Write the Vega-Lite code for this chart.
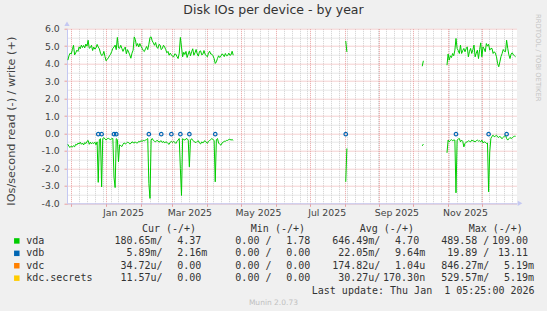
{
  "$schema": "https://vega.github.io/schema/vega-lite/v6.json",
  "width": 450,
  "height": 174.6,
  "autosize": "none",
  "padding": {"left": 67, "top": 28.7, "right": 30, "bottom": 107.7},
  "background": "#f0f0f0",
  "title": {"text": "Disk IOs per device - by year", "font": "DejaVu Sans", "fontSize": 12.5, "fontWeight": "normal", "color": "#333333", "anchor": "middle", "frame": "group", "dx": -18.5, "dy": 3, "offset": 1},
  "config": {
    "view": {"stroke": null, "fill": "#ffffff"},
    "axis": {"labelFont": "DejaVu Sans", "labelFontSize": 9.33, "labelColor": "#444444", "domainColor": "#c4c8f2", "domainWidth": 1}
  },
  "datasets": {
    "vda": [
      {"date":"2024-11-28","seg":1,"write":4.20,"read":-0.62},
      {"date":"2024-11-29","seg":1,"write":4.45,"read":-0.75},
      {"date":"2024-11-30","seg":1,"write":4.60,"read":-0.80},
      {"date":"2024-12-01","seg":1,"write":4.55,"read":-0.72},
      {"date":"2024-12-02","seg":1,"write":4.80,"read":-0.78},
      {"date":"2024-12-03","seg":1,"write":5.05,"read":-0.70},
      {"date":"2024-12-04","seg":1,"write":4.50,"read":-0.76},
      {"date":"2024-12-05","seg":1,"write":4.62,"read":-0.62},
      {"date":"2024-12-06","seg":1,"write":4.77,"read":-0.66},
      {"date":"2024-12-07","seg":1,"write":4.70,"read":-0.55},
      {"date":"2024-12-08","seg":1,"write":4.96,"read":-0.60},
      {"date":"2024-12-09","seg":1,"write":4.85,"read":-0.50},
      {"date":"2024-12-10","seg":1,"write":5.06,"read":-0.62},
      {"date":"2024-12-11","seg":1,"write":4.92,"read":-0.55},
      {"date":"2024-12-12","seg":1,"write":5.04,"read":-0.66},
      {"date":"2024-12-13","seg":1,"write":4.90,"read":-0.52},
      {"date":"2024-12-14","seg":1,"write":5.12,"read":-0.58},
      {"date":"2024-12-15","seg":1,"write":5.00,"read":-0.45},
      {"date":"2024-12-16","seg":1,"write":5.34,"read":-0.40},
      {"date":"2024-12-17","seg":1,"write":4.88,"read":-0.62},
      {"date":"2024-12-18","seg":1,"write":4.92,"read":-0.50},
      {"date":"2024-12-19","seg":1,"write":5.05,"read":-0.60},
      {"date":"2024-12-20","seg":1,"write":4.75,"read":-0.52},
      {"date":"2024-12-21","seg":1,"write":4.95,"read":-0.58},
      {"date":"2024-12-22","seg":1,"write":4.83,"read":-0.50},
      {"date":"2024-12-23","seg":1,"write":4.90,"read":-0.65},
      {"date":"2024-12-24","seg":1,"write":5.10,"read":-0.48},
      {"date":"2024-12-25","seg":1,"write":4.95,"read":-2.80},
      {"date":"2024-12-26","seg":1,"write":4.85,"read":-0.35},
      {"date":"2024-12-27","seg":1,"write":4.60,"read":-0.30},
      {"date":"2024-12-28","seg":1,"write":4.46,"read":-3.06},
      {"date":"2024-12-29","seg":1,"write":4.50,"read":-0.29},
      {"date":"2024-12-30","seg":1,"write":4.70,"read":-0.25},
      {"date":"2024-12-31","seg":1,"write":4.40,"read":-0.30},
      {"date":"2025-01-01","seg":1,"write":4.16,"read":-0.38},
      {"date":"2025-01-02","seg":1,"write":4.25,"read":-0.30},
      {"date":"2025-01-03","seg":1,"write":4.33,"read":-0.28},
      {"date":"2025-01-04","seg":1,"write":4.45,"read":-0.32},
      {"date":"2025-01-05","seg":1,"write":4.54,"read":-0.35},
      {"date":"2025-01-06","seg":1,"write":4.70,"read":-0.30},
      {"date":"2025-01-07","seg":1,"write":4.88,"read":-0.29},
      {"date":"2025-01-08","seg":1,"write":4.95,"read":-2.50},
      {"date":"2025-01-09","seg":1,"write":5.06,"read":-3.10},
      {"date":"2025-01-10","seg":1,"write":4.80,"read":-0.30},
      {"date":"2025-01-11","seg":1,"write":5.50,"read":-0.35},
      {"date":"2025-01-12","seg":1,"write":4.90,"read":-1.62},
      {"date":"2025-01-13","seg":1,"write":4.88,"read":-0.65},
      {"date":"2025-01-14","seg":1,"write":5.05,"read":-0.70},
      {"date":"2025-01-15","seg":1,"write":4.87,"read":-0.75},
      {"date":"2025-01-16","seg":1,"write":4.70,"read":-0.62},
      {"date":"2025-01-17","seg":1,"write":4.85,"read":-0.54},
      {"date":"2025-01-18","seg":1,"write":4.95,"read":-0.60},
      {"date":"2025-01-19","seg":1,"write":4.56,"read":-0.57},
      {"date":"2025-01-20","seg":1,"write":4.80,"read":-0.50},
      {"date":"2025-01-21","seg":1,"write":4.66,"read":-0.52},
      {"date":"2025-01-22","seg":1,"write":4.50,"read":-0.60},
      {"date":"2025-01-23","seg":1,"write":4.31,"read":-0.57},
      {"date":"2025-01-24","seg":1,"write":4.60,"read":-0.48},
      {"date":"2025-01-25","seg":1,"write":4.77,"read":-0.52},
      {"date":"2025-01-26","seg":1,"write":5.53,"read":-0.55},
      {"date":"2025-01-27","seg":1,"write":5.38,"read":-0.48},
      {"date":"2025-01-28","seg":1,"write":5.00,"read":-0.55},
      {"date":"2025-01-29","seg":1,"write":5.15,"read":-0.54},
      {"date":"2025-01-30","seg":1,"write":4.95,"read":-0.45},
      {"date":"2025-01-31","seg":1,"write":5.15,"read":-0.48},
      {"date":"2025-02-01","seg":1,"write":5.00,"read":-0.42},
      {"date":"2025-02-02","seg":1,"write":4.88,"read":-0.45},
      {"date":"2025-02-03","seg":1,"write":4.75,"read":-0.40},
      {"date":"2025-02-04","seg":1,"write":4.69,"read":-0.42},
      {"date":"2025-02-05","seg":1,"write":4.85,"read":-0.38},
      {"date":"2025-02-06","seg":1,"write":4.98,"read":-0.35},
      {"date":"2025-02-07","seg":1,"write":4.80,"read":-0.29},
      {"date":"2025-02-08","seg":1,"write":5.11,"read":-2.87},
      {"date":"2025-02-09","seg":1,"write":5.50,"read":-3.72},
      {"date":"2025-02-10","seg":1,"write":5.53,"read":-0.38},
      {"date":"2025-02-11","seg":1,"write":5.30,"read":-0.29},
      {"date":"2025-02-12","seg":1,"write":5.19,"read":-0.40},
      {"date":"2025-02-13","seg":1,"write":5.05,"read":-0.45},
      {"date":"2025-02-14","seg":1,"write":5.21,"read":-0.48},
      {"date":"2025-02-15","seg":1,"write":4.95,"read":-0.40},
      {"date":"2025-02-16","seg":1,"write":4.87,"read":-0.42},
      {"date":"2025-02-17","seg":1,"write":5.10,"read":-0.50},
      {"date":"2025-02-18","seg":1,"write":5.06,"read":-0.45},
      {"date":"2025-02-19","seg":1,"write":4.80,"read":-0.42},
      {"date":"2025-02-20","seg":1,"write":4.87,"read":-0.52},
      {"date":"2025-02-21","seg":1,"write":5.05,"read":-0.45},
      {"date":"2025-02-22","seg":1,"write":4.96,"read":-0.55},
      {"date":"2025-02-23","seg":1,"write":4.80,"read":-0.48},
      {"date":"2025-02-24","seg":1,"write":4.62,"read":-0.50},
      {"date":"2025-02-25","seg":1,"write":4.70,"read":-0.58},
      {"date":"2025-02-26","seg":1,"write":4.48,"read":-0.62},
      {"date":"2025-02-27","seg":1,"write":4.60,"read":-0.50},
      {"date":"2025-02-28","seg":1,"write":4.50,"read":-0.45},
      {"date":"2025-03-01","seg":1,"write":4.42,"read":-0.52},
      {"date":"2025-03-02","seg":1,"write":4.39,"read":-0.45},
      {"date":"2025-03-03","seg":1,"write":4.55,"read":-0.50},
      {"date":"2025-03-04","seg":1,"write":4.54,"read":-0.57},
      {"date":"2025-03-05","seg":1,"write":4.40,"read":-0.45},
      {"date":"2025-03-06","seg":1,"write":4.29,"read":-0.38},
      {"date":"2025-03-07","seg":1,"write":4.60,"read":-0.29},
      {"date":"2025-03-08","seg":1,"write":5.50,"read":-2.00},
      {"date":"2025-03-09","seg":1,"write":4.96,"read":-3.55},
      {"date":"2025-03-10","seg":1,"write":4.39,"read":-0.30},
      {"date":"2025-03-11","seg":1,"write":4.65,"read":-0.35},
      {"date":"2025-03-12","seg":1,"write":4.52,"read":-0.38},
      {"date":"2025-03-13","seg":1,"write":4.70,"read":-0.30},
      {"date":"2025-03-14","seg":1,"write":4.35,"read":-0.30},
      {"date":"2025-03-15","seg":1,"write":4.55,"read":-0.38},
      {"date":"2025-03-16","seg":1,"write":4.73,"read":-1.91},
      {"date":"2025-03-17","seg":1,"write":4.45,"read":-0.38},
      {"date":"2025-03-18","seg":1,"write":4.68,"read":-0.30},
      {"date":"2025-03-19","seg":1,"write":4.85,"read":-0.40},
      {"date":"2025-03-20","seg":1,"write":4.48,"read":-0.45},
      {"date":"2025-03-21","seg":1,"write":4.62,"read":-0.50},
      {"date":"2025-03-22","seg":1,"write":4.81,"read":-0.52},
      {"date":"2025-03-23","seg":1,"write":4.55,"read":-0.45},
      {"date":"2025-03-24","seg":1,"write":4.43,"read":-0.42},
      {"date":"2025-03-25","seg":1,"write":4.70,"read":-0.55},
      {"date":"2025-03-26","seg":1,"write":4.73,"read":-0.60},
      {"date":"2025-03-27","seg":1,"write":4.50,"read":-0.48},
      {"date":"2025-03-28","seg":1,"write":4.54,"read":-0.55},
      {"date":"2025-03-29","seg":1,"write":4.75,"read":-0.45},
      {"date":"2025-03-30","seg":1,"write":4.54,"read":-0.42},
      {"date":"2025-03-31","seg":1,"write":4.45,"read":-0.50},
      {"date":"2025-04-01","seg":1,"write":4.39,"read":-0.57},
      {"date":"2025-04-02","seg":1,"write":4.60,"read":-0.45},
      {"date":"2025-04-03","seg":1,"write":4.71,"read":-0.40},
      {"date":"2025-04-04","seg":1,"write":4.55,"read":-0.35},
      {"date":"2025-04-05","seg":1,"write":4.54,"read":-0.29},
      {"date":"2025-04-06","seg":1,"write":4.45,"read":-0.35},
      {"date":"2025-04-07","seg":1,"write":4.29,"read":-0.40},
      {"date":"2025-04-08","seg":1,"write":4.01,"read":-2.77},
      {"date":"2025-04-09","seg":1,"write":4.10,"read":-0.35},
      {"date":"2025-04-10","seg":1,"write":4.30,"read":-0.29},
      {"date":"2025-04-11","seg":1,"write":4.45,"read":-0.55},
      {"date":"2025-04-12","seg":1,"write":4.35,"read":-0.62},
      {"date":"2025-04-13","seg":1,"write":4.43,"read":-0.67},
      {"date":"2025-04-14","seg":1,"write":4.55,"read":-0.55},
      {"date":"2025-04-15","seg":1,"write":4.52,"read":-0.50},
      {"date":"2025-04-16","seg":1,"write":4.40,"read":-0.45},
      {"date":"2025-04-17","seg":1,"write":4.58,"read":-0.45},
      {"date":"2025-04-18","seg":1,"write":4.45,"read":-0.40},
      {"date":"2025-04-19","seg":1,"write":4.46,"read":-0.40},
      {"date":"2025-04-20","seg":1,"write":4.60,"read":-0.35},
      {"date":"2025-04-21","seg":1,"write":4.48,"read":-0.33},
      {"date":"2025-04-22","seg":1,"write":4.50,"read":-0.38},
      {"date":"2025-04-23","seg":1,"write":4.71,"read":-0.35},
      {"date":"2025-04-24","seg":1,"write":4.48,"read":-0.40},
      {"date":"2025-08-02","seg":2,"write":5.30,"read":-2.77},
      {"date":"2025-08-03","seg":2,"write":4.67,"read":-0.86},
      {"date":"2025-10-09","seg":3,"write":3.85,"read":-0.71},
      {"date":"2025-10-10","seg":3,"write":4.16,"read":-0.61},
      {"date":"2025-10-31","seg":4,"write":3.91,"read":-1.11},
      {"date":"2025-11-01","seg":4,"write":4.55,"read":-0.38},
      {"date":"2025-11-02","seg":4,"write":4.20,"read":-0.48},
      {"date":"2025-11-03","seg":4,"write":4.45,"read":-0.40},
      {"date":"2025-11-04","seg":4,"write":4.35,"read":-0.35},
      {"date":"2025-11-05","seg":4,"write":4.58,"read":-0.42},
      {"date":"2025-11-06","seg":4,"write":4.45,"read":-0.38},
      {"date":"2025-11-07","seg":4,"write":4.77,"read":-0.38},
      {"date":"2025-11-08","seg":4,"write":5.44,"read":-3.40},
      {"date":"2025-11-09","seg":4,"write":4.87,"read":-0.38},
      {"date":"2025-11-10","seg":4,"write":4.75,"read":-0.32},
      {"date":"2025-11-11","seg":4,"write":4.58,"read":-0.29},
      {"date":"2025-11-12","seg":4,"write":5.06,"read":-0.48},
      {"date":"2025-11-13","seg":4,"write":4.58,"read":-0.38},
      {"date":"2025-11-14","seg":4,"write":4.75,"read":-0.45},
      {"date":"2025-11-15","seg":4,"write":4.87,"read":-0.77},
      {"date":"2025-11-16","seg":4,"write":4.68,"read":-0.57},
      {"date":"2025-11-17","seg":4,"write":4.85,"read":-0.50},
      {"date":"2025-11-18","seg":4,"write":4.96,"read":-0.48},
      {"date":"2025-11-19","seg":4,"write":4.39,"read":-0.42},
      {"date":"2025-11-20","seg":4,"write":4.70,"read":-0.45},
      {"date":"2025-11-21","seg":4,"write":4.87,"read":-0.48},
      {"date":"2025-11-22","seg":4,"write":4.58,"read":-0.38},
      {"date":"2025-11-23","seg":4,"write":4.80,"read":-0.42},
      {"date":"2025-11-24","seg":4,"write":5.06,"read":-0.44},
      {"date":"2025-11-25","seg":4,"write":4.39,"read":-0.48},
      {"date":"2025-11-26","seg":4,"write":4.60,"read":-0.42},
      {"date":"2025-11-27","seg":4,"write":4.77,"read":-0.38},
      {"date":"2025-11-28","seg":4,"write":4.29,"read":-0.44},
      {"date":"2025-11-29","seg":4,"write":4.80,"read":-0.42},
      {"date":"2025-11-30","seg":4,"write":5.19,"read":-0.48},
      {"date":"2025-12-01","seg":4,"write":4.39,"read":-0.38},
      {"date":"2025-12-02","seg":4,"write":4.96,"read":-0.54},
      {"date":"2025-12-03","seg":4,"write":4.85,"read":-0.48},
      {"date":"2025-12-04","seg":4,"write":4.68,"read":-0.50},
      {"date":"2025-12-05","seg":4,"write":5.15,"read":-0.57},
      {"date":"2025-12-06","seg":4,"write":5.00,"read":-0.55},
      {"date":"2025-12-07","seg":4,"write":5.11,"read":-3.34},
      {"date":"2025-12-08","seg":4,"write":4.77,"read":-1.05},
      {"date":"2025-12-09","seg":4,"write":4.87,"read":-0.29},
      {"date":"2025-12-10","seg":4,"write":4.87,"read":-0.16},
      {"date":"2025-12-11","seg":4,"write":4.58,"read":-0.10},
      {"date":"2025-12-12","seg":4,"write":4.68,"read":-0.19},
      {"date":"2025-12-13","seg":4,"write":4.60,"read":-0.15},
      {"date":"2025-12-14","seg":4,"write":4.39,"read":-0.10},
      {"date":"2025-12-15","seg":4,"write":4.00,"read":-0.20},
      {"date":"2025-12-16","seg":4,"write":3.82,"read":-0.23},
      {"date":"2025-12-17","seg":4,"write":4.10,"read":-0.16},
      {"date":"2025-12-18","seg":4,"write":4.40,"read":-0.25},
      {"date":"2025-12-19","seg":4,"write":4.58,"read":-0.29},
      {"date":"2025-12-20","seg":4,"write":4.81,"read":-0.23},
      {"date":"2025-12-21","seg":4,"write":4.70,"read":-0.15},
      {"date":"2025-12-22","seg":4,"write":4.68,"read":-0.10},
      {"date":"2025-12-23","seg":4,"write":5.34,"read":-0.29},
      {"date":"2025-12-24","seg":4,"write":4.87,"read":-0.38},
      {"date":"2025-12-25","seg":4,"write":4.50,"read":-0.30},
      {"date":"2025-12-26","seg":4,"write":4.29,"read":-0.23},
      {"date":"2025-12-27","seg":4,"write":4.55,"read":-0.29},
      {"date":"2025-12-28","seg":4,"write":4.62,"read":-0.25},
      {"date":"2025-12-29","seg":4,"write":4.50,"read":-0.19},
      {"date":"2025-12-30","seg":4,"write":4.45,"read":-0.16},
      {"date":"2025-12-31","seg":4,"write":4.39,"read":-0.16}
    ],
    "vdb": [
      {"date":"2024-12-25","value":-0.04},
      {"date":"2024-12-28","value":-0.04},
      {"date":"2025-01-08","value":-0.04},
      {"date":"2025-01-10","value":-0.04},
      {"date":"2025-02-08","value":-0.04},
      {"date":"2025-02-19","value":-0.04},
      {"date":"2025-02-28","value":-0.04},
      {"date":"2025-03-08","value":-0.04},
      {"date":"2025-03-16","value":-0.04},
      {"date":"2025-04-08","value":-0.04},
      {"date":"2025-08-02","value":-0.04},
      {"date":"2025-11-08","value":-0.04},
      {"date":"2025-12-07","value":-0.04},
      {"date":"2025-12-23","value":-0.04}
    ],
    "devices": [
      {"device":"vda"},
      {"device":"vdb"},
      {"device":"vdc"},
      {"device":"kdc.secrets"}
    ],
    "stats": [
      {"device":"vda","stat":"Cur","rnum":"180.65","runit":"m","wnum":"4.37","wunit":""},
      {"device":"vda","stat":"Min","rnum":"0.00","runit":"","wnum":"1.78","wunit":""},
      {"device":"vda","stat":"Avg","rnum":"646.49","runit":"m","wnum":"4.70","wunit":""},
      {"device":"vda","stat":"Max","rnum":"489.58","runit":"","wnum":"109.00","wunit":""},
      {"device":"vdb","stat":"Cur","rnum":"5.89","runit":"m","wnum":"2.16","wunit":"m"},
      {"device":"vdb","stat":"Min","rnum":"0.00","runit":"","wnum":"0.00","wunit":""},
      {"device":"vdb","stat":"Avg","rnum":"22.05","runit":"m","wnum":"9.64","wunit":"m"},
      {"device":"vdb","stat":"Max","rnum":"19.89","runit":"","wnum":"13.11","wunit":""},
      {"device":"vdc","stat":"Cur","rnum":"34.72","runit":"u","wnum":"0.00","wunit":""},
      {"device":"vdc","stat":"Min","rnum":"0.00","runit":"","wnum":"0.00","wunit":""},
      {"device":"vdc","stat":"Avg","rnum":"174.82","runit":"u","wnum":"1.04","wunit":"u"},
      {"device":"vdc","stat":"Max","rnum":"846.27","runit":"m","wnum":"5.19","wunit":"m"},
      {"device":"kdc.secrets","stat":"Cur","rnum":"11.57","runit":"u","wnum":"0.00","wunit":""},
      {"device":"kdc.secrets","stat":"Min","rnum":"0.00","runit":"","wnum":"0.00","wunit":""},
      {"device":"kdc.secrets","stat":"Avg","rnum":"30.27","runit":"u","wnum":"170.30","wunit":"n"},
      {"device":"kdc.secrets","stat":"Max","rnum":"529.57","runit":"m","wnum":"5.19","wunit":"m"}
    ],
    "headers": [
      {"stat":"Cur","text":"Cur (-/+)"},
      {"stat":"Min","text":"Min (-/+)"},
      {"stat":"Avg","text":"Avg (-/+)"},
      {"stat":"Max","text":"Max (-/+)"}
    ]
  },
  "layer": [
    {
      "layer": [
        {
          "data": {"name": "vda"},
          "mark": {"type": "line", "color": "#00cc00", "strokeWidth": 1},
          "encoding": {
            "x": {"field": "date", "type": "temporal", "title": null,
              "scale": {"type": "utc", "domain": [1732685100000, 1767245100000]},
              "axis": {
                "title": null,
                "tickCount": 500,
                "values": [1733011200000,1733616000000,1734220800000,1734825600000,1735430400000,1736035200000,1736640000000,1737244800000,1737849600000,1738454400000,1739059200000,1739664000000,1740268800000,1740873600000,1741478400000,1742083200000,1742688000000,1743292800000,1743897600000,1744502400000,1745107200000,1745712000000,1746316800000,1746921600000,1747526400000,1748131200000,1748736000000,1749340800000,1749945600000,1750550400000,1751155200000,1751760000000,1752364800000,1752969600000,1753574400000,1754179200000,1754784000000,1755388800000,1755993600000,1756598400000,1757203200000,1757808000000,1758412800000,1759017600000,1759622400000,1760227200000,1760832000000,1761436800000,1762041600000,1762646400000,1763251200000,1763856000000,1764460800000,1765065600000,1765670400000,1766275200000,1766880000000,1735689600000,1738368000000,1740787200000,1743465600000,1746057600000,1751328000000,1754006400000,1756684800000,1759276800000,1761955200000,1764547200000,1736985600000,1747353600000,1752624000000,1757980800000],
                "labelExpr": "utcdate(datum.value) == 16 && utcmonth(datum.value) % 2 == 0 ? utcFormat(datum.value, '%b %Y') : ''",
                "labelOverlap": false, "labelFlush": false, "labelBound": false,
                "labelPadding": 2, "tickSize": 3,
                "grid": true,
                "gridDash": [1, 1],
                "gridColor": {"condition": {"test": "utcdate(datum.value) == 1", "value": "#e9a0a0"}, "value": "#cfcfcf"},
                "gridOpacity": {"condition": {"test": "utcdate(datum.value) == 16 && utcday(datum.value) != 0", "value": 0}, "value": 1},
                "tickColor": "#e9a0a0",
                "tickOpacity": {"condition": {"test": "utcdate(datum.value) == 1", "value": 1}, "value": 0}
              }
            },
            "y": {"field": "write", "type": "quantitative", "title": "IOs/second read (-) / write (+)",
              "scale": {"domain": [-4, 6], "nice": false, "zero": false},
              "axis": {
                "tickCount": 500,
                "values": [-4,-3.5,-3,-2.5,-2,-1.5,-1,-0.5,0,0.5,1,1.5,2,2.5,3,3.5,4,4.5,5,5.5,6],
                "labelExpr": "datum.value % 1 == 0 ? (datum.value < 0 ? '-' : '') + format(abs(datum.value), '.1f') : ''",
                "labelOverlap": false, "labelFlush": false, "labelBound": false,
                "grid": true,
                "gridDash": [1, 1],
                "gridColor": {"condition": {"test": "datum.value % 1 == 0", "value": "#e9a0a0"}, "value": "#cfcfcf"},
                "tickColor": "#e9a0a0",
                "tickOpacity": {"condition": {"test": "datum.value % 1 == 0", "value": 1}, "value": 0},
                "tickSize": 3, "labelPadding": 4.7,
                "title": "IOs/second read (-) / write (+)",
                "titleFont": "DejaVu Sans", "titleFontSize": 11.3, "titleFontWeight": "normal", "titleColor": "#444444",
                "titleAngle": -90, "titleX": -56, "titleY": 92, "titleAlign": "center", "titleBaseline": "middle"
              }
            },
            "detail": {"field": "seg", "type": "nominal"}
          }
        },
        {
          "data": {"name": "vda"},
          "mark": {"type": "line", "color": "#00cc00", "strokeWidth": 1},
          "encoding": {
            "x": {"field": "date", "type": "temporal", "title": null},
            "y": {"field": "read", "type": "quantitative", "title": "IOs/second read (-) / write (+)"},
            "detail": {"field": "seg", "type": "nominal"}
          }
        },
        {
          "mark": {"type": "rule", "color": "#000000", "strokeWidth": 1.5},
          "encoding": {
            "y": {"datum": 0, "type": "quantitative", "title": "IOs/second read (-) / write (+)"}
          }
        },
        {
          "data": {"name": "vdb"},
          "mark": {"type": "point", "shape": "circle", "filled": false, "color": "#0066b3", "strokeWidth": 1.2, "size": 12, "opacity": 1},
          "encoding": {
            "x": {"field": "date", "type": "temporal", "title": null},
            "y": {"field": "value", "type": "quantitative", "title": "IOs/second read (-) / write (+)"}
          }
        },
        {
          "data": {"values": [{"note": "RRDTOOL / TOBI OETIKER"}]},
          "mark": {"type": "text", "font": "DejaVu Sans", "fontSize": 6.8, "color": "#c4c4c4", "angle": 90, "align": "left", "baseline": "middle", "dx": -14.7, "dy": -21},
          "encoding": {
            "x": {"datum": 1767245100000, "type": "temporal", "title": null},
            "y": {"datum": 6, "type": "quantitative", "title": "IOs/second read (-) / write (+)"},
            "text": {"field": "note"}
          }
        },
        {
          "data": {"values": [{"arrow": "y"}]},
          "mark": {"type": "point", "shape": "triangle-up", "filled": true, "color": "#c4c8f2", "size": 28, "yOffset": -5, "opacity": 1},
          "encoding": {
            "x": {"datum": 1732685100000, "type": "temporal", "title": null},
            "y": {"datum": 6, "type": "quantitative", "title": "IOs/second read (-) / write (+)"}
          }
        },
        {
          "data": {"values": [{"arrow": "x"}]},
          "mark": {"type": "point", "shape": "triangle-right", "filled": true, "color": "#c4c8f2", "size": 28, "xOffset": 3, "opacity": 1},
          "encoding": {
            "x": {"datum": 1767245100000, "type": "temporal", "title": null},
            "y": {"datum": -4, "type": "quantitative", "title": "IOs/second read (-) / write (+)"}
          }
        }
      ]
    },
    {
      "layer": [
        {
          "data": {"name": "devices"},
          "mark": {"type": "square", "filled": true, "size": 30, "xOffset": -97.6, "opacity": 1},
          "encoding": {
            "x": {"datum": "Cur", "type": "nominal", "axis": null, "scale": {"type": "point", "domain": ["Cur", "Min", "Avg", "Max"], "range": [47.4, 374.2], "padding": 0}},
            "y": {"field": "device", "type": "nominal", "axis": null, "scale": {"type": "point", "domain": ["header", "vda", "vdb", "vdc", "kdc.secrets", "update", "munin"], "range": [199.8, 274.3], "padding": 0}},
            "color": {"field": "device", "type": "nominal", "legend": null, "scale": {"domain": ["vda", "vdb", "vdc", "kdc.secrets"], "range": ["#00cc00", "#0066b3", "#ff8000", "#ffcc00"]}}
          }
        },
        {
          "data": {"name": "devices"},
          "mark": {"type": "text", "font": "DejaVu Sans Mono", "fontSize": 10, "color": "#333333", "align": "left", "baseline": "middle", "dx": -88.2},
          "encoding": {
            "x": {"datum": "Cur", "type": "nominal", "axis": null},
            "y": {"field": "device", "type": "nominal", "axis": null},
            "text": {"field": "device"}
          }
        },
        {
          "data": {"name": "stats"},
          "mark": {"type": "text", "font": "DejaVu Sans Mono", "fontSize": 10, "color": "#333333", "align": "right", "baseline": "middle", "dx": 36.1},
          "encoding": {
            "x": {"field": "stat", "type": "nominal", "axis": null},
            "y": {"field": "device", "type": "nominal", "axis": null},
            "text": {"field": "rnum"}
          }
        },
        {
          "data": {"name": "stats"},
          "mark": {"type": "text", "font": "DejaVu Sans Mono", "fontSize": 10, "color": "#333333", "align": "left", "baseline": "middle", "dx": 36.1},
          "encoding": {
            "x": {"field": "stat", "type": "nominal", "axis": null},
            "y": {"field": "device", "type": "nominal", "axis": null},
            "text": {"field": "runit"}
          }
        },
        {
          "data": {"name": "stats"},
          "mark": {"type": "text", "text": "/", "font": "DejaVu Sans Mono", "fontSize": 10, "color": "#333333", "align": "left", "baseline": "middle", "dx": 42.1},
          "encoding": {
            "x": {"field": "stat", "type": "nominal", "axis": null},
            "y": {"field": "device", "type": "nominal", "axis": null}
          }
        },
        {
          "data": {"name": "stats"},
          "mark": {"type": "text", "font": "DejaVu Sans Mono", "fontSize": 10, "color": "#333333", "align": "right", "baseline": "middle", "dx": 86.9},
          "encoding": {
            "x": {"field": "stat", "type": "nominal", "axis": null},
            "y": {"field": "device", "type": "nominal", "axis": null},
            "text": {"field": "wnum"}
          }
        },
        {
          "data": {"name": "stats"},
          "mark": {"type": "text", "font": "DejaVu Sans Mono", "fontSize": 10, "color": "#333333", "align": "left", "baseline": "middle", "dx": 86.9},
          "encoding": {
            "x": {"field": "stat", "type": "nominal", "axis": null},
            "y": {"field": "device", "type": "nominal", "axis": null},
            "text": {"field": "wunit"}
          }
        },
        {
          "data": {"name": "headers"},
          "mark": {"type": "text", "font": "DejaVu Sans Mono", "fontSize": 10, "color": "#333333", "align": "left", "baseline": "middle", "dx": 27.5},
          "encoding": {
            "x": {"field": "stat", "type": "nominal", "axis": null},
            "y": {"datum": "header", "type": "nominal", "axis": null},
            "text": {"field": "text"}
          }
        },
        {
          "data": {"values": [{"text": "Last update: Thu Jan\u00a0\u00a01 05:25:00 2026"}]},
          "mark": {"type": "text", "font": "DejaVu Sans Mono", "fontSize": 10, "color": "#333333", "align": "left", "baseline": "middle", "dx": -20.5},
          "encoding": {
            "x": {"datum": "Avg", "type": "nominal", "axis": null},
            "y": {"datum": "update", "type": "nominal", "axis": null},
            "text": {"field": "text"}
          }
        },
        {
          "data": {"values": [{"text": "Munin 2.0.73"}]},
          "mark": {"type": "text", "font": "DejaVu Sans", "fontSize": 7.5, "color": "#c0c0c0", "align": "center", "baseline": "middle", "dx": 50.1},
          "encoding": {
            "x": {"datum": "Min", "type": "nominal", "axis": null},
            "y": {"datum": "munin", "type": "nominal", "axis": null},
            "text": {"field": "text"}
          }
        }
      ]
    }
  ],
  "resolve": {"scale": {"x": "independent", "y": "independent", "color": "independent"}}
}
